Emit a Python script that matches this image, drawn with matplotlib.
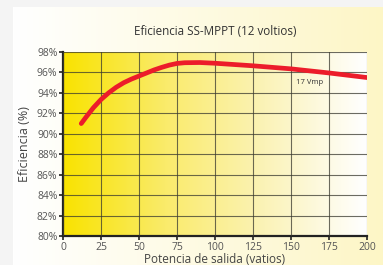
import matplotlib.pyplot as plt
import matplotlib.colors as mcolors
import numpy as np

plt.rcParams['font.family'] = ['Open Sans', 'DejaVu Sans']

# valores
potencia = [12, 15, 20, 25, 30, 35, 40, 45, 50, 55, 60, 65, 70, 75, 80, 90, 100, 125, 150, 175, 200]
eficiencia = [91.0, 91.6, 92.55, 93.35, 94.0, 94.55, 95.0, 95.35, 95.65, 95.95, 96.25, 96.5,
              96.72, 96.88, 96.95, 96.97, 96.9, 96.65, 96.35, 95.95, 95.5]
yticks = [80, 82, 84, 86, 88, 90, 92, 94, 96, 98]
xticks = [0, 25, 50, 75, 100, 125, 150, 175, 200]

W, H = 383, 265
fig = plt.figure(figsize=(W/100, H/100), dpi=100)
fig.patch.set_facecolor('#f4f4f4')

# panel de fondo con degradado blanco -> amarillo palido
bg = fig.add_axes([13/W, 0, 1-13/W, 1-7/H])
bg_cmap = mcolors.LinearSegmentedColormap.from_list('bg', ['#ffffff', '#fdf6c6'])
bg.imshow(np.linspace(0, 1, 256).reshape(1, -1), cmap=bg_cmap, aspect='auto', extent=[0, 1, 0, 1])
bg.set_axis_off()

ax = fig.add_axes([63/W, 1-236/H, (367-63)/W, (236-52)/H])
grad = mcolors.LinearSegmentedColormap.from_list('g', ['#f9e300', '#faeb6a', '#fbf3b8', '#ffffff'])
ax.imshow(np.linspace(0, 1, 256).reshape(1, -1), cmap=grad, aspect='auto',
          extent=[0, 200, 80, 98], zorder=0)

ax.set_xlim(0, 200)
ax.set_ylim(80, 98)
ax.set_xticks(xticks)
ax.set_yticks(yticks)
ax.set_yticklabels([f'{v}%' for v in yticks])
ax.grid(True, color='#3a3a30', linewidth=0.8, alpha=0.75, zorder=1)
ax.set_axisbelow(False)

ax.plot(potencia, eficiencia, color='#ec1c2a', linewidth=3.4, solid_capstyle='round',
        solid_joinstyle='round', zorder=3)
ax.text(153, 95.0, '17 Vmp', fontsize=5.5, color='#333333', va='center', zorder=4)

for s in ['top', 'right']:
    ax.spines[s].set_visible(False)
for s in ['left', 'bottom']:
    ax.spines[s].set_linewidth(1.6)
    ax.spines[s].set_color('#222222')
ax.tick_params(axis='both', length=3, width=1.2, color='#222222', labelsize=7.5, labelcolor='#555555', pad=1)

ax.set_title('Eficiencia SS-MPPT (12 voltios)', fontsize=8.4, color='#333333', pad=12)
ax.set_xlabel('Potencia de salida (vatios)', fontsize=8.5, color='#444444', labelpad=0)
ax.set_ylabel('Eficiencia (%)', fontsize=9, color='#444444', labelpad=4)

fig.savefig('out.png', dpi=100, facecolor=fig.get_facecolor())
